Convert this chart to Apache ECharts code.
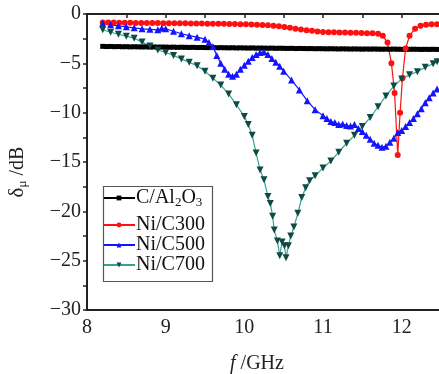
<!DOCTYPE html>
<html>
<head>
<meta charset="utf-8">
<script src="https://cdn.jsdelivr.net/npm/echarts@6/dist/echarts.min.js"></script>
<style>
  html, body { margin: 0; padding: 0; background: #fff; }
  #main { width: 439px; height: 374px; }
</style>
</head>
<body>
<div id="main"></div>
<script>
// [f (GHz), delta_mu (dB)]
const cAl2O3 = [
  [8.20,-3.28],[8.25,-3.30],[8.30,-3.29],[8.35,-3.31],[8.40,-3.30],[8.45,-3.32],[8.50,-3.31],[8.55,-3.33],[8.60,-3.32],[8.65,-3.33],
  [8.70,-3.34],[8.75,-3.33],[8.80,-3.35],[8.85,-3.34],[8.90,-3.36],[8.95,-3.35],[9.00,-3.36],[9.05,-3.37],[9.10,-3.36],[9.15,-3.38],
  [9.20,-3.37],[9.25,-3.38],[9.30,-3.39],[9.35,-3.38],[9.40,-3.40],[9.45,-3.39],[9.50,-3.40],[9.55,-3.41],[9.60,-3.40],[9.65,-3.42],
  [9.70,-3.41],[9.75,-3.42],[9.80,-3.43],[9.85,-3.42],[9.90,-3.44],[9.95,-3.43],[10.00,-3.44],[10.05,-3.45],[10.10,-3.44],[10.15,-3.46],
  [10.20,-3.45],[10.25,-3.46],[10.30,-3.47],[10.35,-3.46],[10.40,-3.48],[10.45,-3.47],[10.50,-3.48],[10.55,-3.49],[10.60,-3.48],[10.65,-3.50],
  [10.70,-3.49],[10.75,-3.50],[10.80,-3.51],[10.85,-3.50],[10.90,-3.52],[10.95,-3.51],[11.00,-3.52],[11.05,-3.53],[11.10,-3.52],[11.15,-3.53],
  [11.20,-3.54],[11.25,-3.53],[11.30,-3.54],[11.35,-3.55],[11.40,-3.54],[11.45,-3.55],[11.50,-3.56],[11.55,-3.55],[11.60,-3.56],[11.65,-3.55],
  [11.70,-3.56],[11.75,-3.57],[11.80,-3.56],[11.85,-3.57],[11.90,-3.56],[11.95,-3.57],[12.00,-3.58],[12.05,-3.57],[12.10,-3.58],[12.15,-3.57],
  [12.20,-3.58],[12.25,-3.59],[12.30,-3.58],[12.35,-3.59],[12.40,-3.58],[12.45,-3.59]
];

const niC300 = [
  [8.2,-0.85],[8.27,-0.86],[8.34,-0.87],[8.41,-0.88],[8.48,-0.88],[8.55,-0.89],[8.62,-0.9],[8.69,-0.9],[8.76,-0.91],[8.83,-0.92],
  [8.9,-0.92],[8.97,-0.93],[9.04,-0.93],[9.11,-0.94],[9.18,-0.95],[9.25,-0.95],[9.32,-0.96],[9.39,-0.97],[9.46,-0.97],[9.53,-0.98],
  [9.6,-0.98],[9.67,-1.0],[9.74,-1.0],[9.81,-1.01],[9.88,-1.02],[9.95,-1.04],[10.02,-1.05],[10.09,-1.07],[10.16,-1.09],[10.23,-1.12],
  [10.3,-1.15],[10.37,-1.2],[10.44,-1.25],[10.51,-1.31],[10.58,-1.4],[10.65,-1.49],[10.72,-1.57],[10.79,-1.64],[10.86,-1.71],[10.93,-1.77],
  [11.0,-1.82],[11.07,-1.84],[11.14,-1.86],[11.21,-1.87],[11.28,-1.88],[11.35,-1.89],[11.42,-1.9],[11.49,-1.92],[11.56,-1.94],[11.63,-1.96],
  [11.7,-2.0],[11.76,-2.2],[11.82,-2.9],[11.87,-5.0],[11.91,-8.0],[11.95,-14.3],[11.98,-10.0],[12.01,-6.5],[12.05,-3.5],[12.1,-2.2],
  [12.17,-1.5],[12.24,-1.2],[12.31,-1.1],[12.38,-1.05],[12.45,-1.05]
];

const niC500 = [
  [8.2,-0.95],[8.3,-1.1],[8.4,-1.2],[8.5,-1.3],[8.6,-1.4],[8.7,-1.5],[8.8,-1.55],[8.9,-1.6],[8.95,-1.45],[9.0,-1.5],
  [9.1,-1.75],[9.2,-2.0],[9.3,-2.2],[9.4,-2.35],[9.5,-2.55],[9.55,-2.9],[9.6,-3.3],[9.65,-4.2],[9.7,-5.0],[9.75,-5.6],
  [9.8,-6.1],[9.85,-6.3],[9.9,-6.1],[9.95,-5.6],[10.0,-5.2],[10.05,-4.8],[10.1,-4.4],[10.15,-4.1],[10.2,-3.9],[10.25,-3.85],
  [10.3,-4.1],[10.35,-4.5],[10.4,-4.9],[10.45,-5.3],[10.5,-5.8],[10.6,-6.7],[10.7,-7.7],[10.8,-8.8],[10.9,-9.7],[11.0,-10.3],
  [11.05,-10.6],[11.1,-10.9],[11.15,-11.0],[11.2,-11.2],[11.25,-11.15],[11.3,-11.3],[11.35,-11.35],[11.4,-11.2],[11.45,-11.6],[11.5,-11.9],
  [11.55,-12.3],[11.6,-12.7],[11.65,-13.1],[11.7,-13.3],[11.75,-13.5],[11.8,-13.4],[11.85,-13.0],[11.9,-12.6],[11.95,-12.0],[12.0,-11.8],
  [12.05,-11.4],[12.1,-11.0],[12.15,-10.6],[12.2,-10.1],[12.25,-9.6],[12.3,-9.0],[12.35,-8.5],[12.4,-8.0],[12.45,-7.6]
];

const niC700 = [
  [8.2,-1.6],[8.3,-1.85],[8.4,-2.05],[8.5,-2.25],[8.6,-2.45],[8.7,-2.85],[8.8,-3.25],[8.9,-3.65],[9.0,-3.9],[9.1,-4.2],
  [9.2,-4.55],[9.3,-4.9],[9.4,-5.25],[9.5,-5.8],[9.6,-6.5],[9.7,-7.2],[9.8,-8.1],[9.9,-9.2],[10.0,-10.4],[10.05,-11.2],
  [10.1,-12.3],[10.15,-14.1],[10.2,-15.8],[10.25,-16.8],[10.3,-18.5],[10.33,-19.2],[10.36,-20.5],[10.38,-21.9],[10.42,-23.0],[10.45,-24.5],
  [10.48,-23.1],[10.51,-23.5],[10.53,-24.7],[10.56,-23.5],[10.59,-22.5],[10.63,-21.6],[10.68,-20.2],[10.73,-18.6],[10.78,-17.6],[10.83,-16.9],
  [10.9,-16.4],[11.0,-15.6],[11.1,-14.9],[11.2,-14.0],[11.3,-13.1],[11.4,-12.3],[11.5,-11.4],[11.6,-10.5],[11.7,-9.4],[11.8,-8.3],
  [11.9,-7.3],[12.0,-6.6],[12.1,-6.15],[12.2,-5.85],[12.3,-5.4],[12.4,-5.05],[12.45,-4.85]
];

const seriesNames = ['C/Al2O3', 'Ni/C300', 'Ni/C500', 'Ni/C700'];

const serif = 'Liberation Serif';
const ink = '#222';
const chart = echarts.init(document.getElementById('main'));

function minus(v) {
  return String(v).replace('-', '\u2212');
}

const legendText = {
  fontFamily: serif, fontSize: 20, color: '#111', padding: [0, 0, 0, -4],
  rich: { sub: { fontFamily: serif, fontSize: 13, color: '#111', padding: [9, 0, 0, 0] } }
};

function legendBase(names, top, lineHeight) {
  return {
    orient: 'vertical',
    left: 102, top: top,
    data: names,
    padding: 0,
    itemGap: 0,
    itemWidth: 32, itemHeight: 6,
    formatter: function (name) {
      if (name === 'C/Al2O3') return 'C/Al{sub|2}O{sub|3}';
      return name;
    },
    textStyle: Object.assign({ lineHeight: lineHeight }, legendText)
  };
}

chart.setOption({
  animation: false,
  backgroundColor: '#fff',
  grid: {
    left: 87, right: -2, top: 14, bottom: 64,
    outerBoundsMode: 'none',
    show: true, borderColor: ink, borderWidth: 2, backgroundColor: 'transparent'
  },
  legend: [
    legendBase(seriesNames.slice(0, 1), 188, 20),
    legendBase(seriesNames.slice(1), 215, 19)
  ],
  graphic: [{
    type: 'rect', left: 101, top: 184, z: 100,
    shape: { width: 109, height: 95 },
    style: { fill: 'none', stroke: '#555', lineWidth: 1.2 }
  }],
  xAxis: {
    type: 'value', min: 8, max: 12.5, interval: 1,
    name: '{i|f} /GHz', nameLocation: 'middle', nameGap: 44,
    nameTextStyle: {
      fontFamily: serif, fontSize: 20, color: ink, padding: [0, 14, 0, 0],
      rich: { i: { fontFamily: serif, fontStyle: 'italic', fontSize: 20, color: ink } }
    },
    axisLine: { lineStyle: { color: ink, width: 2 } },
    axisTick: { length: 4, lineStyle: { color: ink, width: 1.5 } },
    minorTick: { show: true, splitNumber: 2, length: 4, lineStyle: { color: ink, width: 1.5 } },
    splitLine: { show: false },
    axisLabel: {
      margin: 8, fontFamily: serif, fontSize: 20, color: ink,
      formatter: function (v) { return Number.isInteger(v) ? String(v) : ''; }
    }
  },
  yAxis: {
    type: 'value', min: -30, max: 0, interval: 5,
    name: '{a|\u03b4}{s|\u03bc} /dB', nameLocation: 'middle', nameGap: 58, nameRotate: 90,
    nameTextStyle: {
      fontFamily: serif, fontSize: 20, color: ink, padding: [0, 20, 0, 0],
      rich: {
        a: { fontFamily: serif, fontSize: 21, color: ink },
        s: { fontFamily: serif, fontSize: 13, color: ink, verticalAlign: 'bottom', padding: [10, 0, 0, 0] }
      }
    },
    axisLine: { lineStyle: { color: ink, width: 2 } },
    axisTick: { length: 4, lineStyle: { color: ink, width: 1.5 } },
    minorTick: { show: true, splitNumber: 2, length: 4, lineStyle: { color: ink, width: 1.5 } },
    splitLine: { show: false },
    axisLabel: { margin: 6, fontFamily: serif, fontSize: 20, color: ink, formatter: minus }
  },
  series: [
    {
      name: 'C/Al2O3', type: 'line', data: cAl2O3,
      symbol: 'rect', symbolSize: 5,
      itemStyle: { color: '#000' },
      lineStyle: { color: '#000', width: 1.2 }
    },
    {
      name: 'Ni/C300', type: 'line', data: niC300,
      symbol: 'circle', symbolSize: 6,
      itemStyle: { color: '#ff1010' },
      lineStyle: { color: '#ff1010', width: 1.2 }
    },
    {
      name: 'Ni/C500', type: 'line', data: niC500,
      symbol: 'triangle', symbolSize: 7,
      itemStyle: { color: '#1414ff' },
      lineStyle: { color: '#1414ff', width: 1.2 }
    },
    {
      name: 'Ni/C700', type: 'line', data: niC700,
      symbol: 'triangle', symbolRotate: 180, symbolSize: 7,
      itemStyle: { color: '#0f4a44' },
      lineStyle: { color: '#35a393', width: 1.2 }
    }
  ]
});
</script>
</body>
</html>
